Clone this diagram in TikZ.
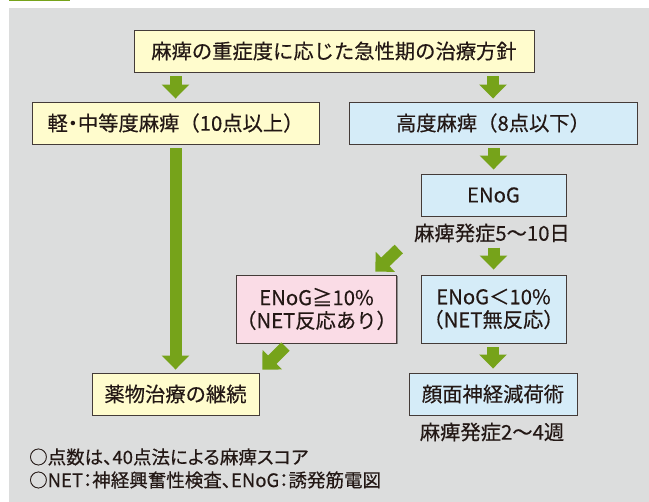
\documentclass[tikz,border=0pt]{standalone}
\usepackage{fontspec}
\setmainfont{Noto Sans CJK JP}[FakeBold=0.35]
\newfontfamily\pfont{Noto Sans CJK JP}[RawFeature=+palt, FakeBold=0.35]
\usetikzlibrary{arrows.meta,shadows}
\definecolor{bggray}{HTML}{DCDDDD}
\definecolor{ylw}{HTML}{FFFCCD}
\definecolor{blu}{HTML}{D5ECF8}
\definecolor{pnk}{HTML}{FADCE6}
\definecolor{grn}{HTML}{76A31A}
\definecolor{ink}{HTML}{231815}
\tikzset{
  box/.style={draw=ink!85, line width=0.9pt, inner sep=0pt, align=center,
    text=ink, font=\fontsize{20.3}{23}\selectfont,
    drop shadow={shadow xshift=1pt, shadow yshift=-1pt, opacity=0.35, fill=black}},
  ybox/.style={box, fill=ylw},
  bbox/.style={box, fill=blu},
  pbox/.style={box, fill=pnk},
  lbl/.style={inner sep=0pt, text=ink, font=\fontsize{20.3}{23}\selectfont},
  note/.style={inner sep=0pt, anchor=west, text=ink, font=\pfont\fontsize{18.5}{23}\selectfont},
  barrow/.style={line width=12pt, color=grn, line cap=butt,
    -{Triangle[width=27pt,length=14pt]}}
}
\begin{document}
\begin{tikzpicture}[x=1pt,y=-1pt]
\useasboundingbox (0,0) rectangle (649,502);
\fill[bggray] (9,8) rectangle (649,502);
\fill[grn] (9,0) rectangle (70,1.5);

\node[ybox, minimum width=400pt, minimum height=42pt] (top) at (334,51) {麻痺の重症度に応じた急性期の治療方針};
\node[ybox, minimum width=287pt, minimum height=42pt] (left) at (175.5,123) {軽{\pfont ・}中等度麻痺（10点以上）};
\node[bbox, minimum width=288pt, minimum height=42pt] (high) at (493,123) {高度麻痺（8点以下）};
\node[bbox, minimum width=145pt, minimum height=42pt] (enog) at (493.5,195) {ENoG};
\node[lbl] (lab1) at (492,233) {麻痺発症5〜10日};
\node[pbox, minimum width=159pt, minimum height=68pt] (pink) at (316.5,309) {ENoG≧10\%\\（NET反応あり）};
\node[bbox, minimum width=145pt, minimum height=68pt] (enogl) at (493.5,309) {ENoG＜10\%\\（NET無反応）};
\node[ybox, minimum width=167pt, minimum height=42pt] (yaku) at (175.5,394) {薬物治療の継続};
\node[bbox, minimum width=168pt, minimum height=42pt] (face) at (493,394) {顔面神経減荷術};
\node[lbl] (lab2) at (492,432) {麻痺発症2〜4週};
\node[note] (n1) at (29,457) {○点数は、40点法による麻痺スコア};
\node[note] (n2) at (29,480) {○NET：神経興奮性検査、ENoG：誘発筋電図};

\draw[barrow] ([yshift=-4pt]top.south -| left.north) -- ([yshift=3pt]left.north);
\draw[barrow] ([yshift=-4pt]top.south -| high.north) -- ([yshift=3pt]high.north);
\draw[barrow] ([yshift=-4pt]left.south) -- ([yshift=3pt]yaku.north);
\draw[barrow] ([yshift=-4pt]high.south -| enog.north) -- ([yshift=4pt]enog.north);
\draw[barrow] ([yshift=27pt]enogl.north) -- ([yshift=5pt]enogl.north);
\draw[barrow] ([yshift=-4pt]enogl.south -| face.north) -- ([yshift=4pt]face.north);
\draw[barrow] ([xshift=1.5pt,yshift=25.5pt]pink.north east) -- ([xshift=-22pt,yshift=3pt]pink.north east);
\draw[barrow] ([xshift=26pt,yshift=26pt]yaku.north east) -- ([xshift=3pt,yshift=3pt]yaku.north east);
\end{tikzpicture}
\end{document}
